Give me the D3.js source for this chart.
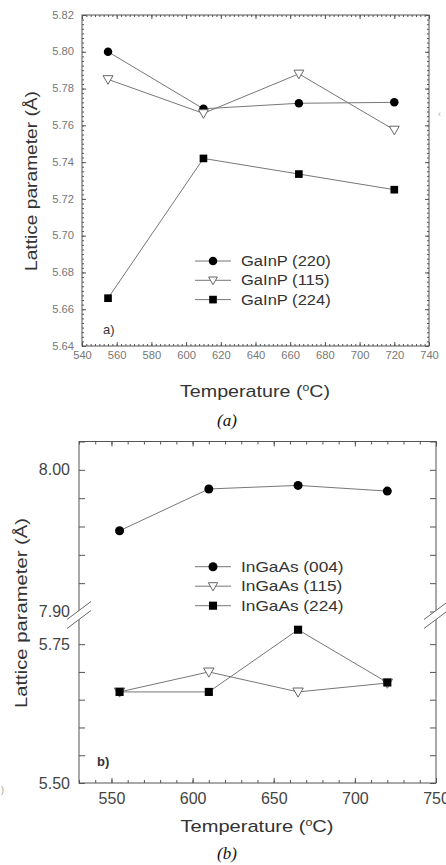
<!DOCTYPE html>
<html>
<head>
<meta charset="utf-8">
<script src="https://cdn.jsdelivr.net/npm/d3@7"></script>
<style>
  body { margin: 0; background: #fff; }
  svg { display: block; font-family: "Liberation Sans", Arial, sans-serif; }
  .axis path { display: none; }
  .axis line { stroke: #555; }
</style>
</head>
<body>
<svg id="chart" width="446" height="865"></svg>
<script>
// panel (a) data
const tempsA = [555, 610, 665, 720];
const gainp220 = [5.800, 5.769, 5.772, 5.7725];
const gainp115 = [5.785, 5.7665, 5.788, 5.7575];
const gainp224 = [5.666, 5.742, 5.7335, 5.725];
const labelsA = ['GaInP (220)', 'GaInP (115)', 'GaInP (224)'];
const xTicksA = d3.range(540, 741, 20);
const yTicksA = d3.range(5.64, 5.8201, 0.02);

// panel (b) data
const tempsB = [555, 610, 665, 720];
const ingaas004 = [7.957, 7.9865, 7.989, 7.985];
const ingaas115 = [5.664, 5.700, 5.664, 5.680];
const ingaas224 = [5.664, 5.664, 5.776, 5.681];
const labelsB = ['InGaAs (004)', 'InGaAs (115)', 'InGaAs (224)'];
const xTicksB = [550, 600, 650, 700, 750];
const yTicksB = [5.50, 5.55, 5.60, 5.65, 5.70, 5.75, 7.90, 7.92, 7.94, 7.96, 7.98, 8.00, 8.02];
const yLabelsB = [5.50, 5.75, 7.90, 8.00];

const markers = ['circle', 'triangle', 'square'];

var svg = d3.select('#chart');

// the scanned figure is a bit wider than normal Arial, so widen text
function widen(sel, f) {
  sel.each(function() {
    var w = this.getComputedTextLength();
    if (w > 0) d3.select(this).attr('textLength', w * f).attr('lengthAdjust', 'spacingAndGlyphs');
  });
}

function marker(g, type, x, y, s) {
  if (type === 'circle') {
    g.append('circle').attr('cx', x).attr('cy', y).attr('r', s * 0.5).attr('fill', '#000');
  } else if (type === 'square') {
    g.append('rect').attr('x', x - s * 0.45).attr('y', y - s * 0.45)
      .attr('width', s * 0.9).attr('height', s * 0.9).attr('fill', '#000');
  } else {
    var h = s * 0.52;
    g.append('path')
      .attr('d', 'M' + (x - h) + ',' + (y - h * 0.75) + 'L' + (x + h) + ',' + (y - h * 0.75) + 'L' + x + ',' + (y + h) + 'Z')
      .attr('fill', '#fff').attr('stroke', '#666').attr('stroke-width', 1);
  }
}

function tempTitle(x, y, size, len) {
  var t = svg.append('text').attr('x', x).attr('y', y).attr('text-anchor', 'middle')
    .attr('font-size', size).attr('fill', '#333')
    .attr('textLength', len).attr('lengthAdjust', 'spacingAndGlyphs');
  t.append('tspan').text('Temperature (');
  t.append('tspan').attr('font-size', size * 0.62).attr('dy', -size * 0.38).text('o');
  t.append('tspan').attr('dy', size * 0.38).text('C)');
}

function yTitle(x, y, size, len) {
  svg.append('text').attr('transform', 'translate(' + x + ',' + y + ') rotate(-90)')
    .attr('text-anchor', 'middle').attr('font-size', size).attr('fill', '#333')
    .attr('textLength', len).attr('lengthAdjust', 'spacingAndGlyphs')
    .text('Lattice parameter (\u00c5)');
}

function series(g, x, y, temps, vals, type, s) {
  var line = d3.line().x(d => x(d[0])).y(d => y(d[1]));
  g.append('path').datum(d3.zip(temps, vals)).attr('d', line)
    .attr('fill', 'none').attr('stroke', '#777').attr('stroke-width', 1);
  temps.forEach(function(t, i) { marker(g, type, x(t), y(vals[i]), s); });
}

function legend(g, x0, y0, dy, labels, size, s, f) {
  labels.forEach(function(lab, i) {
    var yy = y0 + i * dy;
    g.append('line').attr('x1', x0).attr('x2', x0 + 36).attr('y1', yy).attr('y2', yy)
      .attr('stroke', '#777').attr('stroke-width', 1);
    marker(g, markers[i], x0 + 18, yy, s);
    var t = g.append('text').attr('x', x0 + 46).attr('y', yy).attr('dy', '0.35em')
      .attr('font-size', size).attr('fill', '#333').text(lab);
    widen(t, f);
  });
}

// ---------- panel (a) ----------
var xa = d3.scaleLinear().domain([540, 740]).range([82, 429]);
var ya = d3.scaleLinear().domain([5.64, 5.82]).range([346, 15]);
var ga = svg.append('g');

ga.append('rect').attr('x', 82).attr('y', 15).attr('width', 347).attr('height', 331)
  .attr('fill', 'none').attr('stroke', '#555').attr('stroke-width', 1);

function axesA() {
  var minorX = d3.range(540, 741, 2.5), minorY = d3.range(5.64, 5.8201, 0.0025);
  var defs = [
    [d3.axisBottom(xa), 346, 0, xTicksA, minorX, true],
    [d3.axisTop(xa), 15, 0, xTicksA, minorX, false],
    [d3.axisLeft(ya), 0, 82, yTicksA, minorY, true],
    [d3.axisRight(ya), 0, 429, yTicksA, minorY, false]
  ];
  defs.forEach(function(d) {
    var tr = 'translate(' + d[2] + ',' + d[1] + ')';
    ga.append('g').attr('class', 'axis').attr('transform', tr)
      .call(d[0].tickValues(d[4]).tickSize(-2).tickFormat(''));
    var isX = d[1] !== 0;
    var ax = ga.append('g').attr('class', 'axis').attr('transform', tr)
      .call(d[0].tickValues(d[3]).tickSize(-4).tickPadding(isX ? 6 : 8)
        .tickFormat(d[5] ? (isX ? d3.format('d') : d3.format('.2f')) : ''));
    ax.selectAll('text').attr('font-size', 10).attr('fill', '#777').attr('font-family', 'Liberation Sans, Arial');
    widen(ax.selectAll('text'), 1.12);
  });
}
axesA();

series(ga, xa, ya, tempsA, gainp220, 'circle', 8.5);
series(ga, xa, ya, tempsA, gainp115, 'triangle', 9.5);
series(ga, xa, ya, tempsA, gainp224, 'square', 8.5);
legend(ga, 195, 261, 19.3, labelsA, 14, 8.5, 1.18);

ga.append('text').attr('x', 103).attr('y', 334).attr('font-size', 13).attr('fill', '#333').text('a)');
tempTitle(255, 397, 17, 150);
yTitle(37, 181, 17, 180);
svg.append('text').attr('x', 227).attr('y', 426).attr('text-anchor', 'middle')
  .attr('font-family', 'Liberation Serif, Times New Roman, serif').attr('font-style', 'italic')
  .attr('font-size', 17).attr('fill', '#111').text('(a)');
svg.append('text').attr('x', 438).attr('y', 117).attr('font-size', 9).attr('fill', '#aaa').text('\u2039');

// ---------- panel (b) ----------
var xb = d3.scaleLinear().domain([530, 750]).range([79, 436]);
var yb = d3.scaleLinear().domain([5.50, 5.78, 7.90, 8.02]).range([783, 627.5, 611.5, 441.5]);
var gb = svg.append('g');

gb.append('rect').attr('x', 79).attr('y', 441.5).attr('width', 357).attr('height', 341.5)
  .attr('fill', 'none').attr('stroke', '#555').attr('stroke-width', 1);

function axesB() {
  var minorX = d3.range(530, 751, 10);
  [[d3.axisBottom(xb), 'translate(0,783)', true], [d3.axisTop(xb), 'translate(0,441.5)', false]].forEach(function(d) {
    gb.append('g').attr('class', 'axis').attr('transform', d[1])
      .call(d[0].tickValues(minorX).tickSize(-3).tickFormat(''));
    var ax = gb.append('g').attr('class', 'axis').attr('transform', d[1])
      .call(d[0].tickValues(xTicksB).tickSize(-5).tickPadding(10).tickFormat(d[2] ? d3.format('d') : ''));
    ax.selectAll('text').attr('font-size', 16).attr('fill', '#444').attr('font-family', 'Liberation Sans, Arial');
  });
  [[d3.axisLeft(yb), 'translate(79,0)', true], [d3.axisRight(yb), 'translate(436,0)', false]].forEach(function(d) {
    var ax = gb.append('g').attr('class', 'axis').attr('transform', d[1])
      .call(d[0].tickValues(yTicksB).tickSize(-6).tickPadding(9)
        .tickFormat(v => d[2] && yLabelsB.some(l => Math.abs(l - v) < 1e-6) ? d3.format('.2f')(v) : ''));
    ax.selectAll('text').attr('font-size', 16).attr('fill', '#444').attr('font-family', 'Liberation Sans, Arial');
  });
}
axesB();

// axis break marks
[79, 436].forEach(function(cx) {
  var cy = 615, dx = 12, dyl = 9, off = 4.5;
  gb.append('path')
    .attr('d', 'M' + (cx - dx) + ',' + (cy + dyl - off) + 'L' + (cx + dx) + ',' + (cy - dyl - off) +
      'L' + (cx + dx) + ',' + (cy - dyl + off) + 'L' + (cx - dx) + ',' + (cy + dyl + off) + 'Z')
    .attr('fill', '#fff');
  [-off, off].forEach(function(o) {
    gb.append('line').attr('x1', cx - dx).attr('y1', cy + dyl + o).attr('x2', cx + dx).attr('y2', cy - dyl + o)
      .attr('stroke', '#666').attr('stroke-width', 1);
  });
});

series(gb, xb, yb, tempsB, ingaas004, 'circle', 9);
series(gb, xb, yb, tempsB, ingaas115, 'triangle', 10);
series(gb, xb, yb, tempsB, ingaas224, 'square', 9);
legend(gb, 195, 566.7, 19.5, labelsB, 15, 9, 1.15);

gb.append('text').attr('x', 97).attr('y', 766).attr('font-size', 13).attr('font-weight', 'bold')
  .attr('fill', '#333').text('b)');
tempTitle(257, 832, 17, 153);
yTitle(27, 613, 17, 190);
svg.append('text').attr('x', 227).attr('y', 859).attr('text-anchor', 'middle')
  .attr('font-family', 'Liberation Serif, Times New Roman, serif').attr('font-style', 'italic')
  .attr('font-size', 17).attr('fill', '#111').text('(b)');
svg.append('text').attr('x', 1).attr('y', 793).attr('font-size', 9).attr('fill', '#999').text(')');
</script>
</body>
</html>
